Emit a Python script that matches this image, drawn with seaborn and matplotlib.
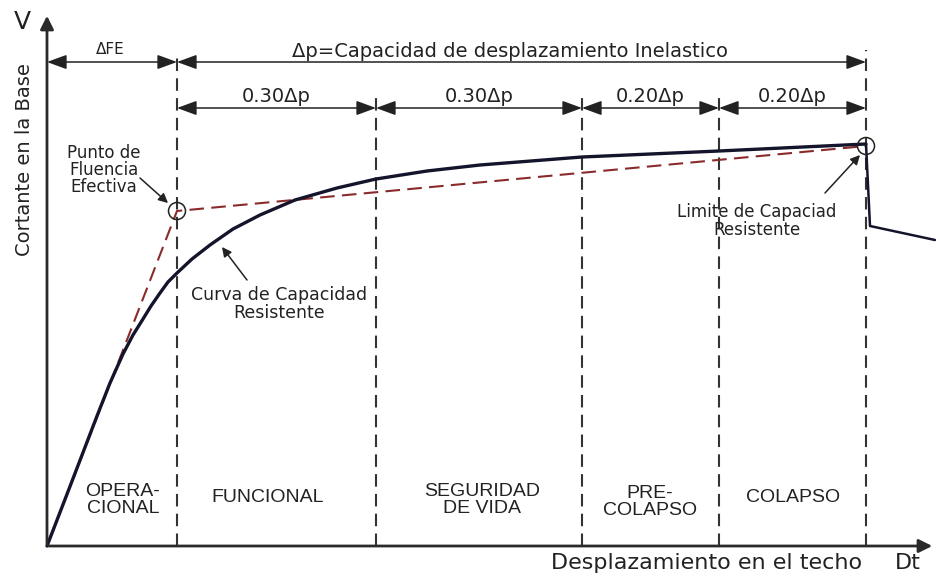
import seaborn as sns
import pandas as pd
import matplotlib.pyplot as plt
from matplotlib.patches import Circle

# capacity curve (arbitrary units)
curve_x = [0, 22, 50, 63, 76, 86, 96, 104, 113, 121, 130, 145, 163, 186, 213, 248, 290, 329,
           380, 433, 535, 672, 819]
curve_y = [0, 57, 130, 163, 192, 211, 227, 240, 253, 264, 273, 287, 301, 317, 331, 346, 358,
           367, 375, 381, 389, 395, 402]
drop_x = [819, 823, 888]
drop_y = [402, 320, 306]

# bilinear idealisation
bilin_x = [0, 130, 819]
bilin_y = [0, 335, 400]

# performance limits on displacement axis
limits = [0, 130, 329, 535, 672, 819]
span_labels = ['0.30\u0394p', '0.30\u0394p', '0.20\u0394p', '0.20\u0394p']
zones = ['OPERA-\nCIONAL', 'FUNCIONAL', 'SEGURIDAD\nDE VIDA', 'PRE-\nCOLAPSO', 'COLAPSO']

# layout
limit_tops = [494, 449, 449, 449, 496]
zone_centers = [76, 221, 435, 603, 746]
zone_y = [46, 49, 46, 44, 49]

sns.set_theme(style='white')
plt.rcParams['font.family'] = ['DejaVu Sans']
arial = ['Liberation Sans', 'DejaVu Sans']

fig = plt.figure(figsize=(9.37, 5.77), dpi=100)
ax = fig.add_axes([0, 0, 1, 1])
ax.set_xlim(-47, 890)
ax.set_ylim(-31, 546)
ax.axis('off')

df_curve = pd.DataFrame({'x': curve_x, 'y': curve_y})
df_bilin = pd.DataFrame({'x': bilin_x, 'y': bilin_y})
df_drop = pd.DataFrame({'x': drop_x, 'y': drop_y})

sns.lineplot(data=df_bilin, x='x', y='y', ax=ax, color='#8a2b2b', lw=1.5,
             linestyle=(0, (7, 3.5)), sort=False, estimator=None)
sns.lineplot(data=df_curve, x='x', y='y', ax=ax, color='#14142c', lw=2.4,
             sort=False, estimator=None)
sns.lineplot(data=df_drop, x='x', y='y', ax=ax, color='#14142c', lw=1.8,
             sort=False, estimator=None)

# vertical dashed limits
for xv, top in zip(limits[1:], limit_tops):
    ax.plot([xv, xv], [0, top], color='#333333', lw=1.5, linestyle=(0, (6, 3.5)), zorder=1)

# circles at yield and ultimate points
for (cx, cy) in [(bilin_x[1], bilin_y[1]), (bilin_x[2], bilin_y[2])]:
    ax.add_patch(Circle((cx, cy), 8.5, fill=False, ec='#222222', lw=1.1, zorder=5))

# axes with arrows
ax.annotate('', xy=(0, 533), xytext=(0, -1),
            arrowprops=dict(arrowstyle='-|>', color='#2a2a2a', lw=2, mutation_scale=20))
ax.annotate('', xy=(888, 0), xytext=(-1, 0),
            arrowprops=dict(arrowstyle='-|>', color='#2a2a2a', lw=2, mutation_scale=20))

dim = dict(arrowstyle='<|-|>,head_length=0.6,head_width=0.22', color='#222222', lw=1.1,
           mutation_scale=20, shrinkA=0, shrinkB=0)

# top dimension lines
ax.annotate('', xy=(limits[0], 484), xytext=(limits[1], 484), arrowprops=dim)
ax.annotate('', xy=(limits[1], 484), xytext=(limits[5], 484), arrowprops=dim)
ax.text(63, 492, '\u0394FE', ha='center', va='baseline', fontsize=11, color='#222222')
ax.text(463, 489, '\u0394p=Capacidad de desplazamiento Inelastico', ha='center',
        va='baseline', fontsize=14, color='#222222')

for i, lab in enumerate(span_labels):
    a, b = limits[i + 1], limits[i + 2]
    ax.annotate('', xy=(a, 438), xytext=(b, 438), arrowprops=dim)
    ax.text((a + b) / 2, 444, lab, ha='center', va='baseline', fontsize=14, color='#222222')

# zone names
for z, zx, zy in zip(zones, zone_centers, zone_y):
    ax.text(zx, zy, z, ha='center', va='center', fontsize=14, linespacing=0.96,
            family=arial, color='#222222')

# annotations
arw = dict(arrowstyle='-|>', color='#222222', lw=1.1, mutation_scale=14, shrinkA=0, shrinkB=0)
ax.text(57, 376, 'Punto de\nFluencia\nEfectiva', ha='center', va='center', fontsize=12,
        linespacing=0.9, color='#222222')
ax.annotate('', xy=(121, 343), xytext=(93, 368), arrowprops=arw)
ax.text(232, 242, 'Curva de Capacidad\nResistente', ha='center', va='center',
        fontsize=12.5, linespacing=0.95, color='#222222')
ax.annotate('', xy=(175, 299), xytext=(200, 266), arrowprops=arw)
ax.text(710, 325, 'Limite de Capaciad\nResistente', ha='center', va='center',
        fontsize=12, linespacing=0.95, color='#222222')
ax.annotate('', xy=(813, 391), xytext=(778, 353), arrowprops=arw)

# axis titles
ax.text(-25, 524, 'V', ha='center', va='center', fontsize=18, color='#222222')
ax.text(-22, 386, 'Cortante en la Base', ha='center', va='center', fontsize=14,
        rotation=90, color='#222222')
ax.text(660, -17, 'Desplazamiento en el techo', ha='center', va='center', fontsize=16,
        color='#222222')
ax.text(861, -17, 'Dt', ha='center', va='center', fontsize=16, color='#222222')

fig.savefig('out.png', dpi=100, facecolor='white')
